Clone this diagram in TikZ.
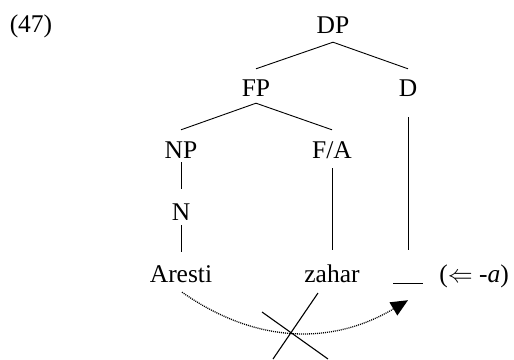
\documentclass[tikz,border=0pt]{standalone}
\usepackage{fontspec}
\setmainfont{Liberation Serif}
\usetikzlibrary{arrows.meta}
\begin{document}
\begin{tikzpicture}[x=1pt,y=-1pt,
  lbl/.style={font=\fontsize{25.5}{30}\selectfont, anchor=base, inner sep=0pt, text height=17pt, text depth=0pt},
  branch/.style={line width=0.9pt},
  movearrow/.style={line width=1.3pt, dash pattern=on 1pt off 1pt, -{Triangle[length=17pt,width=15pt]}},
  crossmark/.style={line width=1.1pt}]
\useasboundingbox (0,0) rectangle (514,359);
\node[lbl] (ex) at (31,32) {(47)};
\node[lbl] (dp) at (333,33) {DP};
\node[lbl] (fp) at (256,96) {FP};
\node[lbl] (d) at (408,96) {D};
\node[lbl] (np) at (181,158) {NP};
\node[lbl] (fa) at (332,158) {F/A};
\node[lbl] (n) at (181,220) {N};
\node[lbl] (aresti) at (181,282) {Aresti};
\node[lbl] (zahar) at (332,282) {zahar};
\node[lbl] (blank) at (408,282) {\rule[-1.5pt]{30pt}{0.9pt}};
\node[lbl] (gloss) at (474,282) {($\Leftarrow$ -\textit{a})};
\draw[branch] ([yshift=-9pt]dp.south) -- ([yshift=10pt]fp.north);
\draw[branch] ([yshift=-9pt]dp.south) -- ([yshift=10pt]d.north);
\draw[branch] ([yshift=-7pt]fp.south) -- ([yshift=11pt]np.north);
\draw[branch] ([yshift=-7pt]fp.south) -- ([yshift=11pt]fa.north);
\draw[branch] ([yshift=-4pt]np.south) -- ([yshift=14pt]n.north);
\draw[branch] ([yshift=-5pt]n.south) -- ([yshift=13pt]aresti.north);
\draw[branch] ([yshift=-10pt]fa.south) -- ([yshift=15pt]zahar.north);
\draw[branch] ([yshift=-21pt]d.south) -- ([yshift=15pt]blank.north);
\draw[movearrow] ([shift={(1pt,-10pt)}]aresti.south) .. controls (262,348) and (338,342) .. ([yshift=-18pt]blank.south);
\coordinate (xc) at (292,335);
\draw[crossmark] ([shift={(26,-42)}]xc) -- ([shift={(-19,24)}]xc);
\draw[crossmark] ([shift={(-30,-23)}]xc) -- ([shift={(36,24)}]xc);
\end{tikzpicture}
\end{document}
